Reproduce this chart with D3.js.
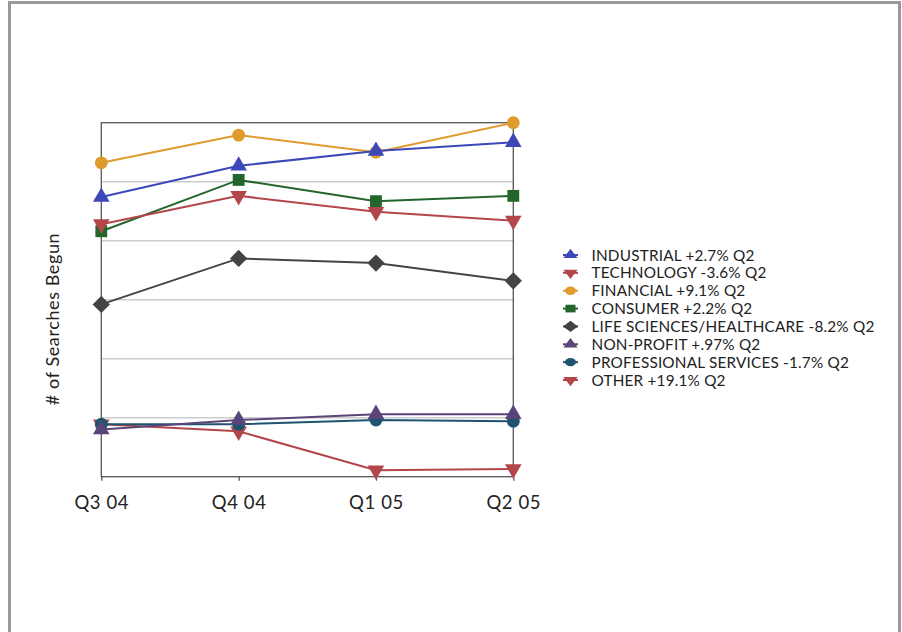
<!DOCTYPE html>
<html>
<head>
<meta charset="utf-8">
<script src="https://cdn.jsdelivr.net/npm/d3@7"></script>
<style>
  body { margin: 0; background: #fff; }
  text { font-family: Lato, "Open Sans", sans-serif; fill: #222; }
</style>
</head>
<body>
<div id="chart"></div>
<script>
// quarters on the x axis
var quarters = ["Q3 04", "Q4 04", "Q1 05", "Q2 05"];

// series names as shown in the legend
var seriesNames = [
    "INDUSTRIAL +2.7% Q2",
    "TECHNOLOGY -3.6% Q2",
    "FINANCIAL +9.1% Q2",
    "CONSUMER +2.2% Q2",
    "LIFE SCIENCES/HEALTHCARE -8.2% Q2",
    "NON-PROFIT +.97% Q2",
    "PROFESSIONAL SERVICES -1.7% Q2",
    "OTHER +19.1% Q2"
];

// values (no axis labels, so arbitrary gridline units)
var industrial = [4.74, 5.27, 5.52, 5.67];
var technology = [4.28, 4.76, 4.49, 4.34];
var financial = [5.32, 5.79, 5.50, 6.0];
var consumer = [4.16, 5.03, 4.67, 4.76];
var lifeSciences = [2.92, 3.70, 3.62, 3.32];
var nonProfit = [0.80, 0.96, 1.06, 1.06];
var professional = [0.89, 0.89, 0.96, 0.94];
var other = [0.89, 0.77, 0.11, 0.13];

var seriesValues = [industrial, technology, financial, consumer, lifeSciences, nonProfit, professional, other];

var colors = ["#3d48b8", "#b3464a", "#e09b2d", "#23652b", "#444444", "#5a4479", "#1e5470", "#b3464a"];
var markers = ["up", "down", "circle", "square", "diamond", "up", "circle", "down"];

var svgWidth = 902;
var svgHeight = 632;

var margin = { top: 122.7, left: 101.3 };
var width = 412;
var height = 354;

var svg = d3.select("#chart")
    .append("svg")
    .attr("width", svgWidth)
    .attr("height", svgHeight);

// outer frame
svg.append("rect")
    .attr("x", 9.5)
    .attr("y", 2.5)
    .attr("width", 890)
    .attr("height", 640)
    .attr("fill", "none")
    .attr("stroke", "#999")
    .attr("stroke-width", 3);

var chartGroup = svg.append("g")
    .attr("transform", `translate(${margin.left}, ${margin.top})`);

var xScale = d3.scalePoint()
    .domain(quarters)
    .range([0, width])
    .padding(0);

var yScale = d3.scaleLinear()
    .domain([0, 6])
    .range([height, 0]);

// gridlines
chartGroup.append("g")
    .selectAll("line")
    .data([1, 2, 3, 4, 5])
    .enter()
    .append("line")
    .attr("x1", 0)
    .attr("x2", width)
    .attr("y1", d => yScale(d))
    .attr("y2", d => yScale(d))
    .attr("stroke", "#cccccc")
    .attr("stroke-width", 1.5);

// plot box
chartGroup.append("rect")
    .attr("width", width)
    .attr("height", height)
    .attr("fill", "none")
    .attr("stroke", "#555")
    .attr("stroke-width", 1.3);

// x axis
var xAxis = d3.axisBottom(xScale).tickSize(4).tickPadding(15);
var xAxisGroup = chartGroup.append("g")
    .attr("transform", `translate(0, ${height})`)
    .call(xAxis);
xAxisGroup.select(".domain").remove();
xAxisGroup.selectAll("line").attr("stroke", "#555").attr("stroke-width", 1.3);
xAxisGroup.selectAll("text")
    .attr("font-size", 18.5)
    .attr("letter-spacing", 0.6)
    .attr("font-family", "Lato, sans-serif")
    .attr("fill", "#222");

// y axis label
svg.append("text")
    .attr("transform", "translate(59, 319) rotate(-90)")
    .attr("text-anchor", "middle")
    .attr("font-size", 18)
    .attr("letter-spacing", 0.6)
    .text("# of Searches Begun");

function markerPath(type) {
    if (type === "up") return d3.symbol(d3.symbolTriangle, 120)();
    if (type === "down") return d3.symbol(d3.symbolTriangle, 120)();
    if (type === "circle") return d3.symbol(d3.symbolCircle, 130)();
    if (type === "square") return d3.symbol(d3.symbolSquare, 140)();
    return d3.symbol(d3.symbolSquare, 150)();
}
function markerRotate(type) {
    if (type === "down") return 180;
    if (type === "diamond") return 45;
    return 0;
}

var line = d3.line()
    .x((d, i) => xScale(quarters[i]))
    .y(d => yScale(d));

// draw in reverse so the first series ends up on top
var order = d3.range(seriesValues.length).reverse();
order.forEach(function (s) {
    var g = chartGroup.append("g");
    g.append("path")
        .datum(seriesValues[s])
        .attr("d", line)
        .attr("fill", "none")
        .attr("stroke", colors[s])
        .attr("stroke-width", 2);
    g.selectAll("path.mark")
        .data(seriesValues[s])
        .enter()
        .append("path")
        .attr("class", "mark")
        .attr("d", markerPath(markers[s]))
        .attr("transform", (d, i) => `translate(${xScale(quarters[i])}, ${yScale(d)}) rotate(${markerRotate(markers[s])})`)
        .attr("fill", colors[s]);
});

// legend
var legend = svg.append("g")
    .attr("transform", "translate(570.5, 255)");

var legendRows = legend.selectAll("g")
    .data(seriesNames)
    .enter()
    .append("g")
    .attr("transform", (d, i) => `translate(0, ${i * 17.86})`);

legendRows.append("line")
    .attr("x1", -7.5)
    .attr("x2", 7.5)
    .attr("stroke", (d, i) => colors[i])
    .attr("stroke-width", 2);

legendRows.append("path")
    .attr("d", (d, i) => markerPath(markers[i]))
    .attr("transform", (d, i) => `scale(0.85, 0.65) rotate(${markerRotate(markers[i])})`)
    .attr("fill", (d, i) => colors[i]);

legendRows.append("text")
    .attr("x", 21)
    .attr("dy", "0.36em")
    .attr("font-size", 15.3)
    .attr("letter-spacing", 0.2)
    .text(d => d);
</script>
</body>
</html>
